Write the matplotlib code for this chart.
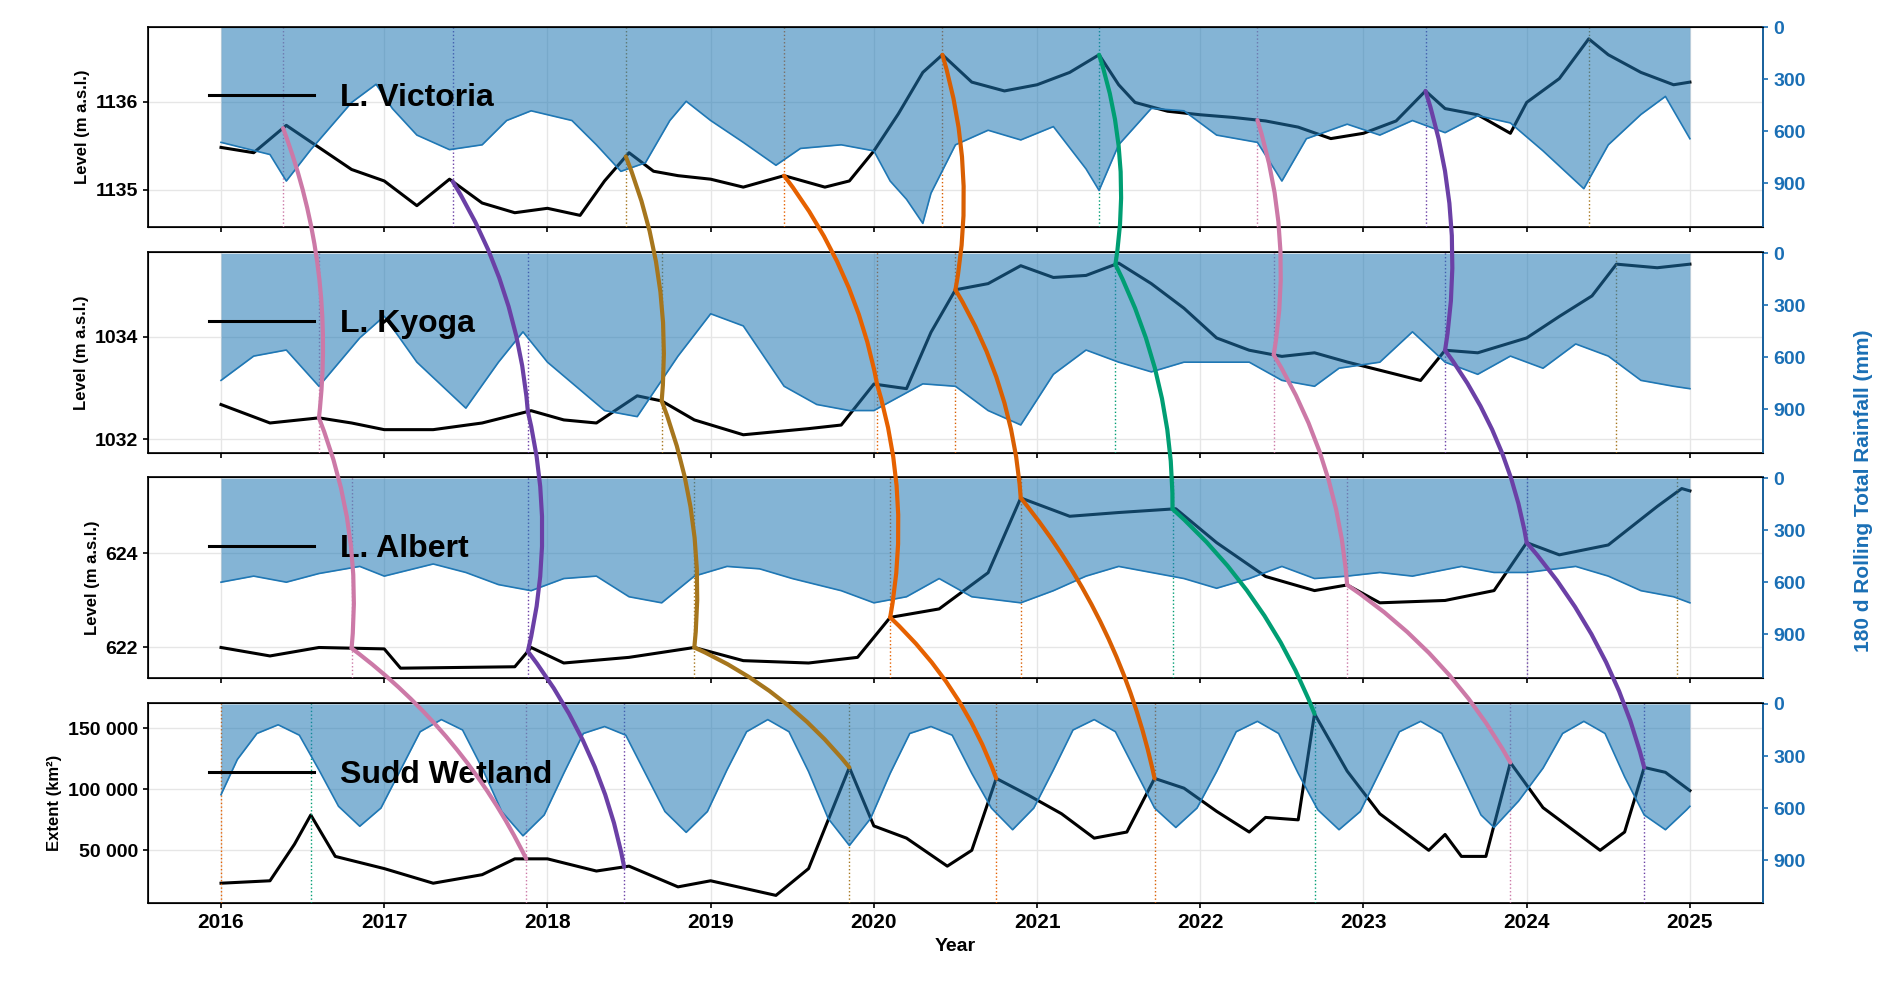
import numpy as np
import matplotlib
matplotlib.use("Agg")
import matplotlib.pyplot as plt
from matplotlib.patches import ConnectionPatch
from matplotlib.ticker import FuncFormatter

# ---------------- data ----------------
vic_t = [2016,2016.2,2016.4,2016.6,2016.8,2017.0,2017.1,2017.2,2017.4,2017.6,2017.8,2018.0,2018.2,2018.35,2018.5,2018.65,2018.8,2019.0,2019.2,2019.45,2019.7,2019.85,2020.0,2020.15,2020.3,2020.42,2020.6,2020.8,2021.0,2021.2,2021.38,2021.5,2021.6,2021.8,2022.0,2022.2,2022.4,2022.6,2022.8,2023.0,2023.2,2023.38,2023.5,2023.7,2023.9,2024.0,2024.2,2024.38,2024.5,2024.7,2024.9,2025.0]
vic_y = [1135.48,1135.42,1135.73,1135.48,1135.23,1135.10,1134.96,1134.82,1135.12,1134.85,1134.74,1134.79,1134.71,1135.10,1135.42,1135.21,1135.16,1135.12,1135.03,1135.16,1135.03,1135.10,1135.44,1135.86,1136.33,1136.53,1136.22,1136.12,1136.19,1136.33,1136.53,1136.19,1135.99,1135.89,1135.85,1135.82,1135.78,1135.71,1135.58,1135.64,1135.78,1136.12,1135.92,1135.85,1135.64,1135.99,1136.26,1136.71,1136.53,1136.33,1136.19,1136.22]
vic_r_t = [2016,2016.3,2016.4,2016.55,2016.8,2016.95,2017.05,2017.2,2017.4,2017.6,2017.75,2017.9,2018.15,2018.3,2018.45,2018.6,2018.75,2018.85,2019.0,2019.2,2019.4,2019.55,2019.8,2020.0,2020.1,2020.2,2020.3,2020.35,2020.5,2020.7,2020.9,2021.1,2021.3,2021.38,2021.5,2021.7,2021.9,2022.1,2022.35,2022.5,2022.65,2022.9,2023.1,2023.3,2023.5,2023.7,2023.9,2024.1,2024.35,2024.5,2024.7,2024.85,2025.0]
vic_r = [663,733,886,705,433,328,468,621,705,677,537,481,537,677,830,781,537,426,537,663,795,698,677,712,886,991,1130,956,677,593,649,572,816,940,677,467,481,621,663,886,642,558,621,537,607,509,551,712,930,677,502,398,642]

kyo_t = [2016,2016.3,2016.6,2016.8,2017.0,2017.3,2017.6,2017.9,2018.1,2018.3,2018.55,2018.7,2018.9,2019.2,2019.6,2019.8,2020.0,2020.2,2020.35,2020.5,2020.7,2020.9,2021.1,2021.3,2021.5,2021.7,2021.9,2022.1,2022.3,2022.5,2022.7,2022.9,2023.2,2023.35,2023.5,2023.7,2024.0,2024.2,2024.4,2024.55,2024.8,2025.0]
kyo_y = [1032.68,1032.32,1032.42,1032.32,1032.19,1032.19,1032.32,1032.56,1032.38,1032.32,1032.85,1032.75,1032.38,1032.09,1032.21,1032.28,1033.08,1032.99,1034.09,1034.92,1035.04,1035.39,1035.16,1035.20,1035.44,1035.04,1034.56,1033.98,1033.74,1033.62,1033.69,1033.51,1033.27,1033.15,1033.74,1033.69,1033.98,1034.40,1034.80,1035.42,1035.35,1035.42]
kyo_r_t = [2016,2016.2,2016.4,2016.6,2016.85,2017.0,2017.2,2017.5,2017.7,2017.85,2018.0,2018.35,2018.55,2018.8,2019.0,2019.2,2019.45,2019.65,2019.85,2020.0,2020.3,2020.5,2020.7,2020.9,2021.1,2021.3,2021.5,2021.7,2021.9,2022.1,2022.3,2022.5,2022.7,2022.85,2023.1,2023.3,2023.5,2023.7,2023.9,2024.1,2024.3,2024.5,2024.7,2024.9,2025.0]
kyo_r = [733,593,558,767,488,363,628,893,628,453,628,907,942,593,349,419,767,872,907,907,753,767,907,990,698,558,628,684,628,628,628,733,767,663,628,453,628,698,593,663,523,593,733,767,781]

alb_t = [2016,2016.3,2016.6,2017.0,2017.1,2017.8,2017.9,2018.1,2018.5,2018.9,2019.2,2019.6,2019.9,2020.1,2020.4,2020.7,2020.9,2021.2,2021.5,2021.85,2022.1,2022.4,2022.7,2022.9,2023.1,2023.5,2023.8,2024.0,2024.2,2024.5,2024.8,2024.95,2025.0]
alb_y = [622.00,621.82,622.00,621.97,621.56,621.59,622.00,621.67,621.79,622.00,621.72,621.67,621.79,622.64,622.82,623.59,625.18,624.79,624.87,624.95,624.23,623.51,623.21,623.33,622.95,623.00,623.21,624.23,623.97,624.18,625.00,625.38,625.33]
alb_r_t = [2016,2016.2,2016.4,2016.6,2016.85,2017.0,2017.3,2017.5,2017.7,2017.9,2018.1,2018.3,2018.5,2018.7,2018.9,2019.1,2019.3,2019.5,2019.8,2020.0,2020.2,2020.4,2020.6,2020.9,2021.1,2021.3,2021.5,2021.7,2021.9,2022.1,2022.3,2022.5,2022.7,2022.9,2023.1,2023.3,2023.6,2023.8,2024.0,2024.3,2024.5,2024.7,2024.9,2025.0]
alb_r = [600,565,600,550,509,565,495,544,614,649,579,565,684,719,565,509,523,579,649,719,684,579,684,719,649,565,509,544,579,635,579,509,579,565,544,565,509,544,544,509,565,649,684,719]

sudd_t = [2016,2016.3,2016.45,2016.55,2016.7,2017.0,2017.3,2017.6,2017.8,2018.0,2018.3,2018.5,2018.8,2019.0,2019.4,2019.6,2019.85,2020.0,2020.2,2020.45,2020.6,2020.75,2020.95,2021.15,2021.35,2021.55,2021.72,2021.9,2022.1,2022.3,2022.4,2022.6,2022.7,2022.9,2023.1,2023.4,2023.5,2023.6,2023.75,2023.9,2024.1,2024.3,2024.45,2024.6,2024.72,2024.85,2025.0]
sudd_y = [23000,25000,55000,79000,45000,35000,23000,30000,43000,43000,33000,37000,20000,25000,13000,35000,118000,70000,60000,37000,50000,109000,95000,80000,60000,65000,109000,101000,82000,65000,77000,75000,162000,115000,80000,50000,63000,45000,45000,122000,85000,65000,50000,65000,118000,114000,99000]
sudd_r_t = [2016,2016.1,2016.22,2016.35,2016.48,2016.6,2016.72,2016.85,2016.98,2017.1,2017.22,2017.35,2017.48,2017.6,2017.72,2017.85,2017.98,2018.1,2018.22,2018.35,2018.48,2018.6,2018.72,2018.85,2018.98,2019.1,2019.22,2019.35,2019.48,2019.6,2019.72,2019.85,2019.98,2020.1,2020.22,2020.35,2020.48,2020.6,2020.72,2020.85,2020.98,2021.1,2021.22,2021.35,2021.48,2021.6,2021.72,2021.85,2021.98,2022.1,2022.22,2022.35,2022.48,2022.6,2022.72,2022.85,2022.98,2023.1,2023.22,2023.35,2023.48,2023.6,2023.72,2023.8,2023.95,2024.1,2024.22,2024.35,2024.48,2024.6,2024.72,2024.85,2024.98,2025.0]
sudd_r = [523,320,170,120,180,380,590,705,600,380,160,90,150,370,620,760,640,400,170,130,180,400,620,740,620,380,160,90,160,390,660,816,660,400,170,130,180,400,600,725,600,380,150,90,160,380,600,712,600,390,160,100,170,400,610,725,620,390,160,100,170,400,640,712,560,370,170,100,170,420,640,725,610,590]

years = list(range(2016, 2026))

# events: (colour, [date in V, K, A, S], connect)
events = [
    ("#CC79A7", [2016.38, 2016.6, 2016.8, 2017.87], True),
    ("#6B40A6", [2017.42, 2017.88, 2017.88, 2018.47], True),
    ("#A6761D", [2018.48, 2018.7, 2018.9, 2019.85], True),
    ("#E66100", [2019.45, 2020.02, 2020.1, 2020.75], True),
    ("#D95F02", [2020.42, 2020.5, 2020.9, 2021.72], True),
    ("#009E73", [2021.38, 2021.48, 2021.83, 2022.7], True),
    ("#CC79A7", [2022.35, 2022.45, 2022.9, 2023.9], True),
    ("#6B40A6", [2023.38, 2023.5, 2024.0, 2024.72], True),
    ("#A6761D", [2024.38, 2024.55, 2024.92, None], False),
    ("#E66100", [None, None, None, 2016.0], False),
    ("#009E73", [None, None, None, 2016.55], False),
]

panels = [
    ("L. Victoria", vic_t, vic_y, vic_r_t, vic_r, (1134.58, 1136.85), [1135, 1136], "Level (m a.s.l.)"),
    ("L. Kyoga", kyo_t, kyo_y, kyo_r_t, kyo_r, (1031.74, 1035.65), [1032, 1034], "Level (m a.s.l.)"),
    ("L. Albert", alb_t, alb_y, alb_r_t, alb_r, (621.36, 625.62), [622, 624], "Level (m a.s.l.)"),
    ("Sudd Wetland", sudd_t, sudd_y, sudd_r_t, sudd_r, (6400, 170800), [50000, 100000, 150000], "Extent (km²)"),
]

# ---------------- figure ----------------
plt.rcParams['font.family'] = ['Liberation Sans', 'DejaVu Sans']
fig = plt.figure(figsize=(18.92, 9.82), dpi=100)
blue = "#1f77b4"
tblue = "#1a6fb5"
L, R = 0.078, 0.932
tops = [0.973, 0.743, 0.514, 0.284]
h = 0.204
axes = []
for i, (name, t, y, rt, r, ylim, yt, ylab) in enumerate(panels):
    ax = fig.add_axes([L, tops[i] - h, R - L, h])
    line, = ax.plot(t, y, color="black", lw=2.2, label=name, zorder=3)
    ax.set_xlim(2015.55, 2025.45)
    ax.set_ylim(*ylim)
    ax.set_yticks(yt)
    ax.set_xticks(years)
    ax.grid(True, color="#e6e6e6", lw=1)
    ax.set_ylabel(ylab, fontsize=12, fontweight="bold")
    ax.tick_params(labelsize=14, width=1.2)
    for lab in ax.get_yticklabels():
        lab.set_fontweight("bold")
    if i == 3:
        ax.yaxis.set_major_formatter(FuncFormatter(lambda v, p: f"{int(v):,}".replace(",", " ")))
        ax.set_xlabel("Year", fontsize=14, fontweight="bold")
        for lab in ax.get_xticklabels():
            lab.set_fontweight("bold")
        ax.tick_params(axis="x", labelsize=15)
    else:
        ax.tick_params(labelbottom=False)
    for sp in ax.spines.values():
        sp.set_linewidth(1.2)
    ax2 = ax.twinx()
    ax2.fill_between(rt, 0, r, color=blue, alpha=0.55, lw=0)
    ax2.plot(rt, r, color=blue, lw=1.2)
    ax2.set_ylim(1150, -5)
    ax2.set_yticks([0, 300, 600, 900])
    ax2.tick_params(colors=tblue, labelsize=14, width=1.2)
    for lab in ax2.get_yticklabels():
        lab.set_fontweight("bold")
    ax2.spines["right"].set_color(tblue)
    ax2.spines["right"].set_linewidth(1.2)
    ax2.legend([line], [name], loc="upper left", bbox_to_anchor=(0.02, 0.86), frameon=False,
               prop={"size": 23, "weight": "bold"}, handlelength=3.3)
    for col, dates, _ in events:
        if dates[i] is not None:
            ax.axvline(dates[i], color=col, ls=":", lw=1.0, zorder=4)
    axes.append((ax, t, y))

fig.text(0.985, 0.5, "180 d Rolling Total Rainfall (mm)", rotation=90, va="center", ha="center",
         color=tblue, fontsize=15, fontweight="bold")

for col, dates, connect in events:
    if not connect:
        continue
    for i in range(3):
        axA, tA, yA = axes[i]
        axB, tB, yB = axes[i + 1]
        pA = (dates[i], np.interp(dates[i], tA, yA))
        pB = (dates[i + 1], np.interp(dates[i + 1], tB, yB))
        con = ConnectionPatch(xyA=pA, coordsA=axA.transData, xyB=pB, coordsB=axB.transData,
                              connectionstyle="arc3,rad=-0.12", color=col, lw=3, zorder=20)
        fig.add_artist(con)

fig.savefig("out.png", dpi=100)
